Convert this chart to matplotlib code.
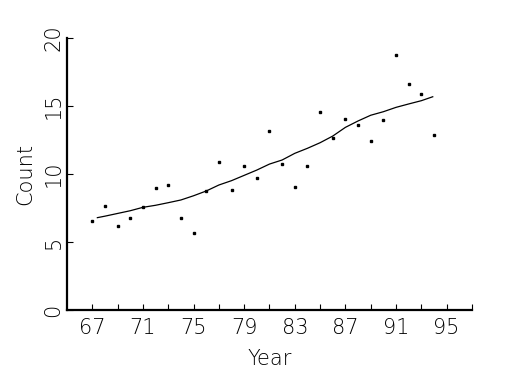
import matplotlib
matplotlib.use("Agg")
from matplotlib import pyplot as plt

# observed counts per year
years = [67, 68, 69, 70, 71, 72, 73, 74, 75, 76, 77, 78, 79, 80,
         81, 82, 83, 84, 85, 86, 87, 88, 89, 90, 91, 92, 93, 94]
counts = [6.54, 7.67, 6.15, 6.74, 7.57, 8.97, 9.19, 6.74, 5.66, 8.75,
          10.88, 8.8, 10.59, 9.68, 13.16, 10.73, 9.02, 10.59, 14.56, 12.62,
          14.04, 13.6, 12.43, 13.97, 18.75, 16.62, 15.9, 12.85]

# smoothed trend line
trend_x = [67.4, 68, 69, 70, 71, 72, 73, 74, 75, 76, 77, 78, 79, 80, 81,
           82, 83, 84, 85, 86, 87, 88, 89, 90, 91, 92, 93, 93.9]
trend_y = [6.79, 6.9, 7.1, 7.3, 7.55, 7.7, 7.89, 8.09, 8.4, 8.75, 9.19,
           9.51, 9.9, 10.29, 10.73, 11.03, 11.52, 11.89, 12.3, 12.79, 13.43,
           13.9, 14.32, 14.58, 14.9, 15.15, 15.39, 15.68]

xticks = [67, 71, 75, 79, 83, 87, 91, 95]
minor_xticks = list(range(67, 98, 2))
yticks = [0, 5, 10, 15, 20]

plt.rcParams['font.family'] = ['DejaVu Sans']

fig = plt.figure(figsize=(5.25, 3.75), dpi=100)
ax = fig.add_axes([0.1276, 0.1733, 0.7714, 0.7254])

ax.plot(years, counts, linestyle='none', marker='s', markersize=1.8, color='black')
ax.plot(trend_x, trend_y, color='black', linewidth=0.9)

ax.set_xlim(65, 97)
ax.set_ylim(0, 20)

for side in ['top', 'right']:
    ax.spines[side].set_visible(False)
for side in ['left', 'bottom']:
    ax.spines[side].set_linewidth(1.6)

ax.set_xticks(minor_xticks, minor=True)
ax.set_xticks(xticks)
ax.set_xticklabels([str(t) for t in xticks])
ax.set_yticks(yticks)
ax.set_yticklabels([str(t) for t in yticks], rotation=90, va='center')

ax.tick_params(axis='both', which='both', direction='in', length=4, width=0.8,
               labelsize=15)
ax.tick_params(axis='x', which='major', pad=6)
ax.tick_params(axis='y', which='major', pad=2.5)

ax.set_xlabel("Year", fontsize=15, fontweight='light', labelpad=8)
ax.set_ylabel("Count", fontsize=15, fontweight='light', labelpad=6)
for lbl in ax.get_xticklabels() + ax.get_yticklabels():
    lbl.set_fontweight('light')

fig.savefig("out.png", dpi=100)
